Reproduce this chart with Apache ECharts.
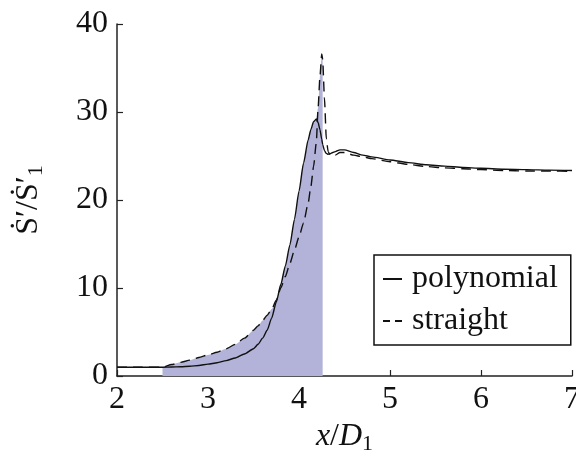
<!DOCTYPE html>
<html>
<head>
<meta charset="utf-8">
<script src="https://cdn.jsdelivr.net/npm/echarts@6/dist/echarts.min.js"></script>
<style>
  html, body { margin: 0; padding: 0; background: #fff; }
  #chart { width: 576px; height: 450px; }
</style>
</head>
<body>
<div id="chart"></div>
<script>
// Streamwise positions x/D1 shared by both profiles
const xGrid = [
  2.0, 2.25, 2.5, 2.6, 2.7, 2.8, 2.9, 3.0, 3.1, 3.2,
  3.3, 3.4, 3.5, 3.55, 3.6, 3.65, 3.7, 3.75, 3.8, 3.85,
  3.9, 3.95, 4.0, 4.05, 4.1, 4.13, 4.16, 4.19, 4.21, 4.23,
  4.25, 4.26, 4.28, 4.3, 4.32, 4.35, 4.4, 4.45, 4.5, 4.6,
  4.7, 4.8, 5.0, 5.2, 5.4, 5.6, 5.8, 6.0, 6.25, 6.5,
  6.75, 7.0
];

// Normalised entropy-flux ratio for the polynomial profile
const polynomial = [
  1.0, 1.0, 1.0, 1.02, 1.05, 1.1, 1.2, 1.35, 1.5, 1.75,
  2.05, 2.5, 3.1, 3.6, 4.3, 5.2, 6.6, 8.4, 10.4, 12.5,
  14.9, 17.8, 21.0, 24.2, 26.8, 28.0, 28.9, 29.2, 28.8, 28.0,
  26.9, 26.3, 25.6, 25.3, 25.2, 25.3, 25.5, 25.7, 25.7, 25.4,
  25.1, 24.9, 24.55, 24.25, 24.0, 23.85, 23.7, 23.6, 23.5, 23.45,
  23.4, 23.35
];

// Same ratio for the straight profile
const straight = [
  1.0, 1.0, 1.0, 1.3, 1.55, 1.8, 2.1, 2.4, 2.7, 3.1,
  3.6, 4.3, 5.2, 5.7, 6.3, 6.9, 7.6, 8.6, 10.0, 11.3,
  12.8, 14.3, 15.8, 17.4, 19.6, 21.5, 23.8, 26.5, 30.5, 34.0,
  36.6, 36.0, 31.5, 27.0, 25.5, 25.0, 25.1, 25.4, 25.4, 25.1,
  24.9, 24.7, 24.35, 24.05, 23.8, 23.65, 23.55, 23.45, 23.35, 23.3,
  23.3, 23.25
];

// Shaded interval along x/D1
const shadeFrom = 2.5;
const shadeTo = 4.26;

const polyPts = xGrid.map((x, i) => [x, polynomial[i]]);
const straightPts = xGrid.map((x, i) => [x, straight[i]]);
// Envelope of both profiles inside the shaded interval
const shadePts = [];
xGrid.forEach((x, i) => {
  if (x >= shadeFrom && x <= shadeTo) {
    shadePts.push([x, Math.max(polynomial[i], straight[i])]);
  }
});

const serif = '"Liberation Serif", "DejaVu Serif", serif';
const axisColor = '#222';
const smoothing = 0.2;

const chart = echarts.init(document.getElementById('chart'), null, { renderer: 'canvas' });
chart.setOption({
  animation: false,
  backgroundColor: '#fff',
  grid: { left: 117, right: 4, top: 24, bottom: 74, containLabel: false, outerBoundsMode: 'none' },
  legend: {
    data: [
      { name: 'polynomial' },
      { name: 'straight', lineStyle: { type: [7, 5] } }
    ],
    orient: 'vertical',
    left: 374,
    top: 255,
    padding: [8, 13, 8, 8],
    itemGap: 10,
    itemWidth: 19,
    itemHeight: 12,
    borderColor: '#111',
    borderWidth: 1.5,
    borderRadius: 0,
    backgroundColor: '#fff',
    itemStyle: { color: 'rgba(0,0,0,0)', borderWidth: 0, opacity: 0 },
    textStyle: { fontFamily: serif, fontSize: 32, color: '#111', lineHeight: 32, padding: [0, 0, 0, 5] }
  },
  xAxis: {
    type: 'value',
    min: 2,
    max: 7,
    interval: 1,
    name: '{it|x}{n|/}{it|D}{sub|1}',
    nameLocation: 'middle',
    nameGap: 34,
    nameTextStyle: {
      rich: {
        it: { fontFamily: serif, fontStyle: 'italic', fontSize: 32, color: '#111', lineHeight: 36 },
        n: { fontFamily: serif, fontSize: 32, color: '#111', lineHeight: 36 },
        sub: { fontFamily: serif, fontSize: 22, color: '#111', lineHeight: 18, verticalAlign: 'bottom' }
      }
    },
    splitLine: { show: false },
    axisLine: { onZero: false, lineStyle: { color: axisColor, width: 1.5 } },
    axisTick: { inside: true, length: 6, lineStyle: { color: axisColor, width: 1.2 } },
    axisLabel: { fontFamily: serif, fontSize: 32, color: '#111', margin: 8 }
  },
  yAxis: {
    type: 'value',
    min: 0,
    max: 40,
    interval: 10,
    name: '{n|Ṡ′/Ṡ′}{sub|1}',
    nameLocation: 'middle',
    nameGap: 70,
    nameRotate: 90,
    nameTextStyle: {
      rich: {
        n: { fontFamily: serif, fontSize: 32, color: '#111', lineHeight: 36 },
        sub: { fontFamily: serif, fontSize: 22, color: '#111', lineHeight: 18, verticalAlign: 'bottom' }
      }
    },
    splitLine: { show: false },
    axisLine: { show: true, onZero: false, lineStyle: { color: axisColor, width: 1.5 } },
    axisTick: { show: true, inside: true, length: 6, lineStyle: { color: axisColor, width: 1.2 } },
    axisLabel: { fontFamily: serif, fontSize: 32, color: '#111', margin: 9 }
  },
  series: [
    {
      name: 'shade',
      type: 'line',
      data: shadePts,
      symbol: 'none',
      smooth: smoothing,
      smoothMonotone: 'x',
      lineStyle: { width: 0, opacity: 0 },
      areaStyle: { color: '#b3b3da', opacity: 1 },
      silent: true,
      z: 1
    },
    {
      name: 'polynomial',
      type: 'line',
      data: polyPts,
      symbol: 'none',
      smooth: smoothing,
      smoothMonotone: 'x',
      lineStyle: { color: '#111', width: 1.4, type: 'solid' },
      itemStyle: { color: '#111' },
      z: 3
    },
    {
      name: 'straight',
      type: 'line',
      data: straightPts,
      symbol: 'none',
      smooth: smoothing,
      smoothMonotone: 'x',
      lineStyle: { color: '#111', width: 1.4, type: [10, 6] },
      itemStyle: { color: '#111' },
      z: 3
    }
  ]
});
</script>
</body>
</html>
